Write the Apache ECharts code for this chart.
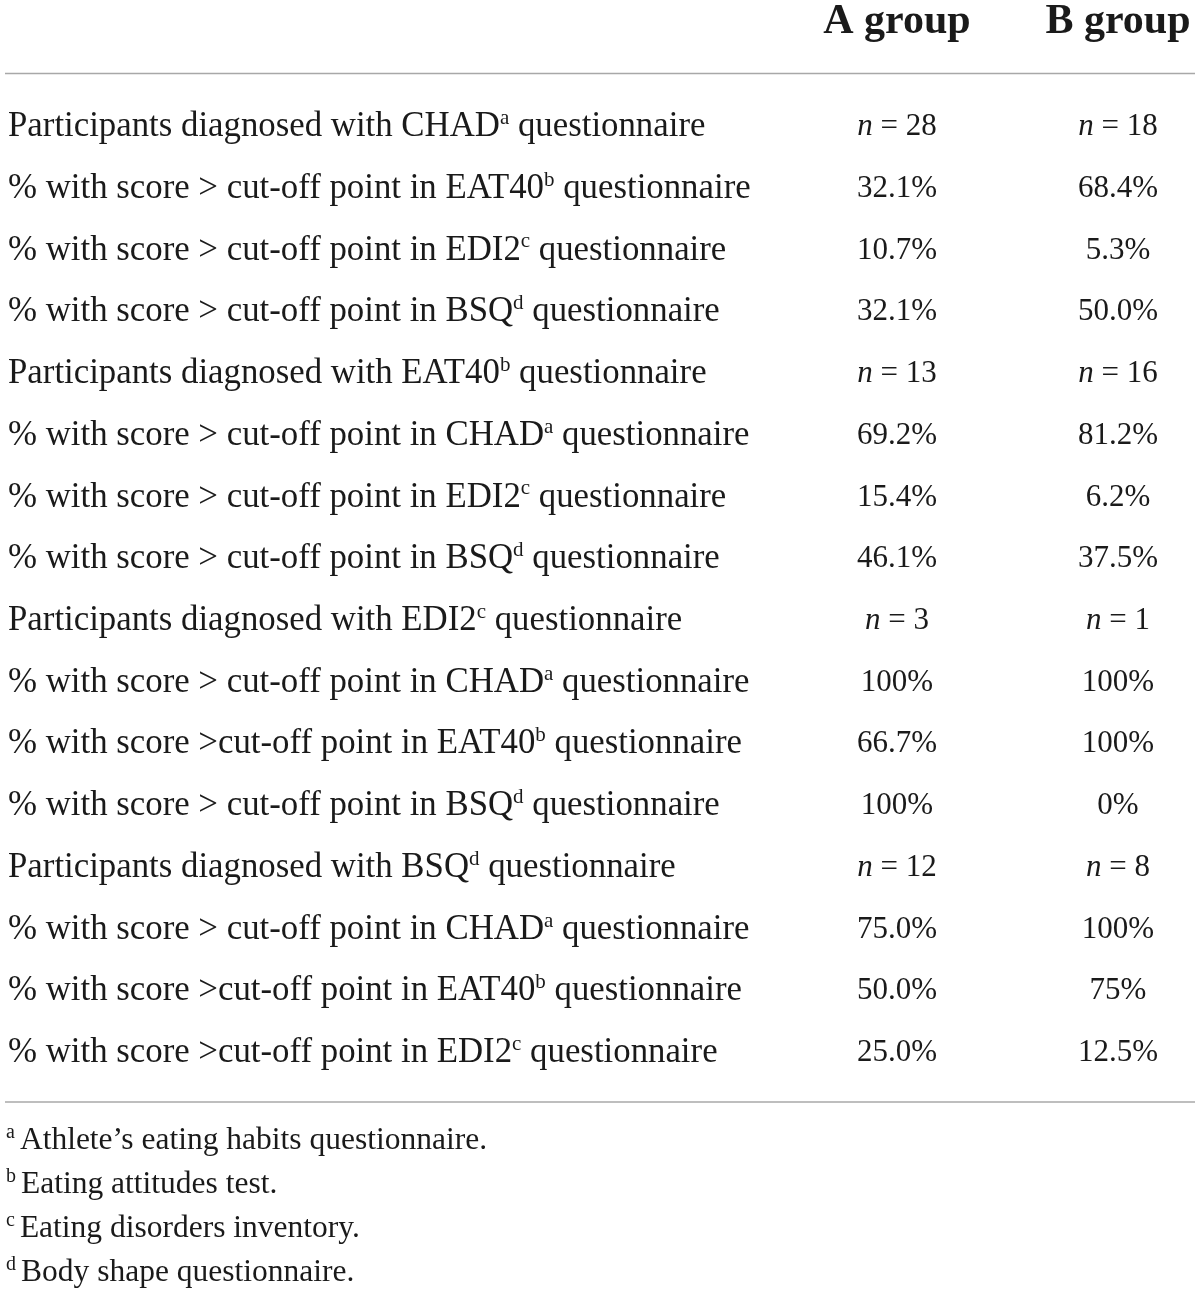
<!DOCTYPE html>
<html>
<head>
<meta charset="utf-8">
<script src="https://cdn.jsdelivr.net/npm/echarts@6/dist/echarts.min.js"></script>
<style>
  html, body { margin: 0; padding: 0; background: #fff; }
  #main { width: 1200px; height: 1296px; }
</style>
</head>
<body>
<div id="main"></div>
<script>
// table content, ^x marks a superscript letter
var groups = ['A group', 'B group'];

var rowLabels = [
    'Participants diagnosed with CHAD^a questionnaire',
    '% with score > cut-off point in EAT40^b questionnaire',
    '% with score > cut-off point in EDI2^c questionnaire',
    '% with score > cut-off point in BSQ^d questionnaire',
    'Participants diagnosed with EAT40^b questionnaire',
    '% with score > cut-off point in CHAD^a questionnaire',
    '% with score > cut-off point in EDI2^c questionnaire',
    '% with score > cut-off point in BSQ^d questionnaire',
    'Participants diagnosed with EDI2^c questionnaire',
    '% with score > cut-off point in CHAD^a questionnaire',
    '% with score >cut-off point in EAT40^b questionnaire',
    '% with score > cut-off point in BSQ^d questionnaire',
    'Participants diagnosed with BSQ^d questionnaire',
    '% with score > cut-off point in CHAD^a questionnaire',
    '% with score >cut-off point in EAT40^b questionnaire',
    '% with score >cut-off point in EDI2^c questionnaire'
];

var groupA = ['n = 28', '32.1%', '10.7%', '32.1%',
              'n = 13', '69.2%', '15.4%', '46.1%',
              'n = 3', '100%', '66.7%', '100%',
              'n = 12', '75.0%', '50.0%', '25.0%'];

var groupB = ['n = 18', '68.4%', '5.3%', '50.0%',
              'n = 16', '81.2%', '6.2%', '37.5%',
              'n = 1', '100%', '100%', '0%',
              'n = 8', '100%', '75%', '12.5%'];

var footnotes = [
    ['a', 'Athlete\u2019s eating habits questionnaire.'],
    ['b', 'Eating attitudes test.'],
    ['c', 'Eating disorders inventory.'],
    ['d', 'Body shape questionnaire.']
];

var FONT = '"Liberation Serif", "DejaVu Serif", serif';
var INK = '#1a1a1a';

var chart = echarts.init(document.getElementById('main'));

var gridLeft = 897, gridRight = 82, gridTop = 127, gridBottom = 1296 - 1053;

function richRow(s){
    // split on ^x markers, wrap plain parts and superscripts
    var out = '';
    s.split(/(\^[a-d])/).forEach(function(part){
        if(!part){ return; }
        if(part.charAt(0) === '^'){
            out += '{sup|' + part.slice(1) + '}';
        }else{
            out += '{t|' + part + '}';
        }
    });
    return out;
}

function cellText(s){
    if(s.indexOf('n ') === 0){
        return '{i|n}{t|' + s.slice(1) + '}';
    }
    return '{t|' + s + '}';
}

var rowRich = {
    t: { fontFamily: FONT, fontSize: 34.8, color: INK, lineHeight: 44 },
    sup: { fontFamily: FONT, fontSize: 21, color: INK, lineHeight: 21, verticalAlign: 'top', padding: [3, 0, 0, 0] }
};

var cellRich = {
    t: { fontFamily: FONT, fontSize: 31, color: INK, lineHeight: 40 },
    i: { fontFamily: FONT, fontSize: 31, fontStyle: 'italic', color: INK, lineHeight: 40 }
};

function buildSeries(name, col, texts){
    return {
        name: name,
        type: 'scatter',
        symbolSize: 1,
        itemStyle: { color: 'rgba(0,0,0,0)', opacity: 1 },
        silent: true,
        data: texts.map(function(t, i){ return [col, i]; }),
        label: {
            show: true,
            position: 'inside',
            color: INK,
            opacity: 1,
            textBorderWidth: 0,
            formatter: function(p){ return cellText(texts[p.dataIndex]); },
            rich: cellRich
        }
    };
}

var graphics = [
    { type: 'line', shape: { x1: 5, y1: 73.5, x2: 1195, y2: 73.5 },
      style: { stroke: '#a8a8a8', lineWidth: 1.5 } },
    { type: 'line', shape: { x1: 5, y1: 1102, x2: 1195, y2: 1102 },
      style: { stroke: '#a8a8a8', lineWidth: 1.5 } }
];

footnotes.forEach(function(f, i){
    graphics.push({
        type: 'text',
        left: 6,
        top: 1141 + i * 44 - 20,
        style: {
            text: '{sup|' + f[0] + '}{t|' + f[1] + '}',
            rich: {
                t: { fontFamily: FONT, fontSize: 31.5, fill: INK, lineHeight: 40 },
                sup: { fontFamily: FONT, fontSize: 20, fill: INK, lineHeight: 20, verticalAlign: 'top', padding: [2, 5, 0, 0] }
            }
        }
    });
});

chart.setOption({
    backgroundColor: '#fff',
    animation: false,
    grid: { left: gridLeft, right: gridRight, top: gridTop, bottom: gridBottom },
    xAxis: {
        type: 'category',
        position: 'top',
        data: groups,
        boundaryGap: false,
        axisLine: { show: false },
        axisTick: { show: false },
        splitLine: { show: false },
        axisLabel: {
            margin: 105,
            verticalAlign: 'middle',
            fontFamily: FONT,
            fontSize: 42,
            fontWeight: 'bold',
            color: INK
        }
    },
    yAxis: {
        type: 'category',
        data: rowLabels,
        inverse: true,
        boundaryGap: false,
        axisLine: { show: false },
        axisTick: { show: false },
        splitLine: { show: false },
        axisLabel: {
            align: 'left',
            margin: gridLeft - 8,
            interval: 0,
            formatter: function(v){ return richRow(v); },
            rich: rowRich
        }
    },
    graphic: graphics,
    series: [
        buildSeries(groups[0], 0, groupA),
        buildSeries(groups[1], 1, groupB)
    ]
});
</script>
</body>
</html>
